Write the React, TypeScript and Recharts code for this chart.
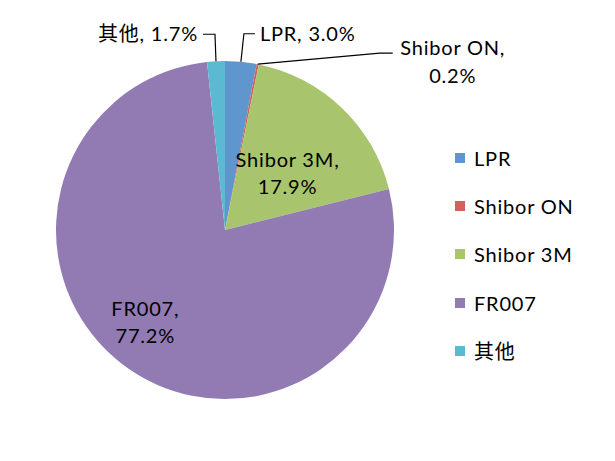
import React from "react";
import { PieChart, Pie, Cell } from "recharts";

const names = ["LPR", "Shibor ON", "Shibor 3M", "FR007", "其他"];
const shares = [3.0, 0.2, 17.9, 77.2, 1.7];
const colors = ["#5F96CD", "#CF625D", "#A8C56D", "#927BB3", "#5BBAD2"];

const data = names.map((name, i) => ({ name, value: shares[i] }));

const FONT = "Lato, 'Noto Sans CJK SC', sans-serif";
const FS = 20;
const LS = 0.8;
const RAD = Math.PI / 180;

// how each label sits relative to its slice
const placement: Record<string, any> = {
  LPR: { kind: "out", ex: 3, ey: -28, tail: 11, lines: 1 },
  "Shibor ON": { kind: "out", ex: 122, ey: -11, tail: 13, lines: 2 },
  "Shibor 3M": { kind: "in", r: 0.5, da: -4 },
  FR007: { kind: "in", r: 0.72, da: -6 },
  其他: { kind: "out", ex: -1, ey: -27, tail: -12, lines: 1 },
};

function renderLabel(props: any) {
  const { cx, cy, midAngle, outerRadius, name, value } = props;
  const p = placement[name];
  const pct = `${value.toFixed(1)}%`;
  const common = { fontFamily: FONT, fontSize: FS, fill: "#000", letterSpacing: LS };
  if (p.kind === "in") {
    const a = (midAngle + p.da) * RAD;
    const x = cx + outerRadius * p.r * Math.cos(a);
    const y = cy - outerRadius * p.r * Math.sin(a);
    return (
      <text x={x} y={y} textAnchor="middle" {...common}>
        <tspan x={x} dy={-6}>{name},</tspan>
        <tspan x={x} dy={27}>{pct}</tspan>
      </text>
    );
  }
  const a = midAngle * RAD;
  const sx = cx + outerRadius * Math.cos(a);
  const sy = cy - outerRadius * Math.sin(a);
  const mx = sx + p.ex;
  const my = sy + p.ey;
  const tx = mx + p.tail;
  const anchor = p.tail > 0 ? "start" : "end";
  const gap = p.tail > 0 ? 5 : -5;
  const mid = tx + gap + 55;
  return (
    <g>
      <polyline points={`${sx},${sy} ${mx},${my} ${tx},${my}`} fill="none" stroke="#000" strokeWidth={1.2} />
      {p.lines === 1 ? (
        <text x={tx + gap} y={my} dy={7} textAnchor={anchor} {...common}>
          {name}, {pct}
        </text>
      ) : (
        <text x={mid} y={my} textAnchor="middle" {...common}>
          <tspan x={mid} dy={2}>{name},</tspan>
          <tspan x={mid} dy={28}>{pct}</tspan>
        </text>
      )}
    </g>
  );
}

export default function App() {
  return (
    <div style={{ position: "absolute", left: 0, top: 0, width: 615, height: 461, background: "#fff" }}>
      <PieChart width={615} height={461} margin={{ top: 0, right: 0, bottom: 0, left: 0 }}>
        <Pie
          data={data}
          dataKey="value"
          nameKey="name"
          cx={225}
          cy={230}
          outerRadius={169}
          startAngle={90}
          endAngle={-270}
          stroke="none"
          label={renderLabel}
          labelLine={false}
          isAnimationActive={false}
        >
          {data.map((d, i) => (
            <Cell key={d.name} fill={colors[i]} />
          ))}
        </Pie>
      </PieChart>
      <div style={{ position: "absolute", left: 455, top: 134, fontFamily: FONT, fontSize: FS, letterSpacing: LS }}>
        {names.map((n, i) => (
          <div key={n} style={{ display: "flex", alignItems: "center", height: 48.2 }}>
            <span style={{ width: 10, height: 10, background: colors[i], marginRight: 9, display: "inline-block" }} />
            <span>{n}</span>
          </div>
        ))}
      </div>
    </div>
  );
}
